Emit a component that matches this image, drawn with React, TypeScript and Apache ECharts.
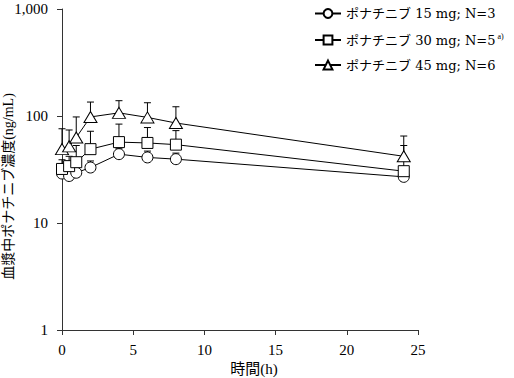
import React, { useEffect, useRef } from "react";
import * as echarts from "echarts";

const times = [0, 0.5, 1, 2, 4, 6, 8, 24];
const names = ["ポナチニブ 15 mg; N=3", "ポナチニブ 30 mg; N=5", "ポナチニブ 45 mg; N=6"];
const mean15 = [29, 27.5, 29.5, 33, 44, 41, 39.5, 27];
const upper15 = [33, 31, 33, 38, 50, 47, 45, 29];
const mean30 = [32, 34, 37, 49, 57, 56, 54, 30.5];
const upper30 = [39, 42, 53, 72, 84, 78, 73, 53];
const mean45 = [49, 52, 63, 98, 107, 97, 86, 42];
const upper45 = [76, 74, 98, 135, 139, 133, 122, 65];
const symbols = ["circle", "rect", "triangle"];
const yTicks = ["1", "10", "100", "1,000"];

const FONT = "'Liberation Serif', 'Noto Sans CJK JP', serif";
const LFONT = "'DejaVu Serif', 'Noto Sans CJK JP', serif";

export default function App() {
  const ref = useRef<HTMLDivElement>(null);
  useEffect(() => {
    const chart = echarts.init(ref.current!, undefined, { renderer: "svg" });
    const means = [mean15, mean30, mean45];
    const uppers = [upper15, upper30, upper45];
    const errSeries = means.map((m, i) => ({
      type: "custom",
      z: 1,
      silent: true,
      data: times.map((t, j) => [t, uppers[i][j], m[j]]),
      renderItem: (params: any, api: any) => {
        const p1 = api.coord([api.value(0), api.value(2)]);
        const p2 = api.coord([api.value(0), api.value(1)]);
        const st = { stroke: "#000", lineWidth: 1 };
        return {
          type: "group",
          children: [
            { type: "line", shape: { x1: p1[0], y1: p1[1], x2: p2[0], y2: p2[1] }, style: st },
            { type: "line", shape: { x1: p2[0] - 3.5, y1: p2[1], x2: p2[0] + 3.5, y2: p2[1] }, style: st },
          ],
        };
      },
    }));
    const lineSeries = means.map((m, i) => ({
      type: "line",
      name: names[i],
      z: 3,
      data: times.map((t, j) => [t, m[j]]),
      symbol: symbols[i],
      symbolSize: i === 2 ? [13, 11] : 11,
      lineStyle: { color: "#000", width: 1 },
      itemStyle: { color: "#fff", borderColor: "#000", borderWidth: 1 },
    }));
    chart.setOption({
      animation: false,
      textStyle: { fontFamily: FONT, color: "#000" },
      grid: { left: 62, top: 9, width: 356, height: 321, containLabel: false, outerBoundsMode: "none" },
      legend: {
        orient: "vertical",
        left: 309,
        top: 2,
        itemWidth: 26,
        itemHeight: 11,
        itemGap: 12,
        data: names,
        textStyle: {
          fontFamily: LFONT,
          fontSize: 13,
          color: "#000",
          rich: { sup: { fontFamily: FONT, fontSize: 8, verticalAlign: "top", padding: [0, 0, 8, 2], color: "#000" } },
        },
        formatter: (n: string) => (n === names[1] ? n + "{sup|a)}" : n),
      },
      xAxis: {
        type: "value",
        min: 0,
        max: 25,
        interval: 5,
        name: "時間(h)",
        nameLocation: "middle",
        nameGap: 25,
        nameTextStyle: { fontFamily: FONT, fontSize: 15, color: "#000", padding: [0, 0, 0, 28] },
        axisLine: { lineStyle: { color: "#333", width: 1 } },
        axisTick: { lineStyle: { color: "#333" }, length: 5 },
        axisLabel: { fontFamily: FONT, fontSize: 15, color: "#000", margin: 12 },
        splitLine: { show: false },
      },
      yAxis: {
        type: "log",
        logBase: 10,
        min: 1,
        max: 1000,
        name: "血漿中ポナチニブ濃度(ng/mL)",
        nameLocation: "middle",
        nameGap: 47,
        nameMoveOverlap: false,
        nameTextStyle: { fontFamily: FONT, fontSize: 14, color: "#000", padding: [0, 34, 0, 0] },
        axisLine: { show: true, lineStyle: { color: "#333", width: 1 } },
        axisTick: { show: true, lineStyle: { color: "#333" }, length: 5 },
        axisLabel: {
          fontFamily: FONT,
          fontSize: 15,
          color: "#000",
          margin: 14,
          formatter: (v: number) => yTicks[Math.round(Math.log10(v))] ?? String(v),
        },
        splitLine: { show: false },
        minorTick: { show: false },
      },
      series: [...errSeries, ...lineSeries],
    });
    return () => chart.dispose();
  }, []);
  return <div ref={ref} style={{ width: 514, height: 378, position: "absolute", left: 0, top: 0 }} />;
}
